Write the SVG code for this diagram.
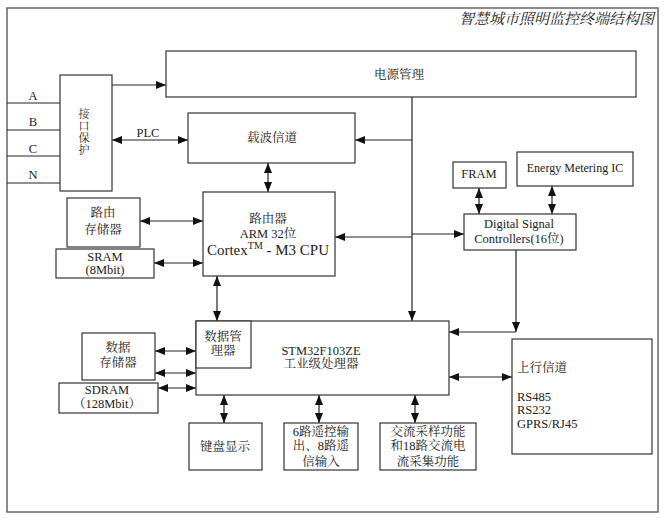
<svg xmlns="http://www.w3.org/2000/svg" width="666" height="518" viewBox="0 0 666 518">
<style>
.box{fill:#fff;stroke:#333;stroke-width:1.2}
.ln{fill:none;stroke:#222;stroke-width:1.2}
.a2{marker-start:url(#ah);marker-end:url(#ah)}
.a1{marker-end:url(#ah)}
.t{font-family:"Liberation Serif","Noto Serif CJK SC","Noto Sans CJK SC",serif;font-size:12.5px;fill:#222;text-anchor:middle;dominant-baseline:central}
.l{text-anchor:start}
.v{font-size:11px}
</style>
<defs>
<marker id="ah" viewBox="0 0 10 8" refX="10" refY="4" markerWidth="10" markerHeight="8" markerUnits="userSpaceOnUse" orient="auto-start-reverse">
<path d="M0,0 L10,4 L0,8 z" fill="#111"/>
</marker>
</defs>
<rect x="7" y="8" width="651" height="504" fill="#fff" stroke="#666" stroke-width="1.5"/>
<text class="t" x="654" y="19" style="text-anchor:end;font-size:15px;font-style:italic">智慧城市照明监控终端结构图</text>

<g id="connectors">
<line class="ln" x1="7" y1="103" x2="60" y2="103"/>
<line class="ln" x1="7" y1="130" x2="60" y2="130"/>
<line class="ln" x1="7" y1="156" x2="60" y2="156"/>
<line class="ln" x1="7" y1="183" x2="60" y2="183"/>
<line class="ln a1" x1="112" y1="85" x2="166" y2="85"/>
<line class="ln a2" x1="112" y1="140" x2="188" y2="140"/>
<line class="ln a1" x1="412" y1="97" x2="412" y2="321"/>
<line class="ln a1" x1="412" y1="140" x2="355" y2="140"/>
<line class="ln a2" x1="268" y1="163" x2="268" y2="192"/>
<line class="ln a1" x1="412" y1="237" x2="335" y2="237"/>
<line class="ln a1" x1="412" y1="234" x2="464" y2="234"/>
<line class="ln a2" x1="479" y1="188" x2="479" y2="214"/>
<line class="ln a2" x1="552" y1="186" x2="552" y2="214"/>
<line class="ln a1" x1="516" y1="250" x2="516" y2="332"/>
<line class="ln a1" x1="516" y1="332" x2="449" y2="332"/>
<line class="ln a2" x1="140" y1="221" x2="203" y2="221"/>
<line class="ln a2" x1="154" y1="263" x2="203" y2="263"/>
<line class="ln a2" x1="217" y1="276" x2="217" y2="321"/>
<line class="ln a2" x1="155" y1="351" x2="196" y2="351"/>
<line class="ln a2" x1="155" y1="373" x2="196" y2="373"/>
<line class="ln a2" x1="158" y1="388" x2="196" y2="388"/>
<line class="ln a2" x1="224" y1="395" x2="224" y2="423"/>
<line class="ln a2" x1="319" y1="395" x2="319" y2="423"/>
<line class="ln a2" x1="415" y1="395" x2="415" y2="423"/>
<line class="ln a2" x1="449" y1="377" x2="512" y2="377"/>
<text class="t" x="33" y="96">A</text>
<text class="t" x="33" y="122">B</text>
<text class="t" x="33" y="149">C</text>
<text class="t" x="33" y="175">N</text>
<text class="t" x="148" y="133">PLC</text>
</g>

<g id="power">
<rect class="box" x="166" y="51" width="470" height="46"/>
<text class="t" x="399" y="75">电源管理</text>
</g>
<g id="interface">
<rect class="box" x="60" y="75" width="52" height="116"/>
<text class="t v" x="84" y="114">接</text>
<text class="t v" x="84" y="126">口</text>
<text class="t v" x="84" y="138">保</text>
<text class="t v" x="84" y="150">护</text>
</g>
<g id="carrier">
<rect class="box" x="188" y="113" width="167" height="50"/>
<text class="t" x="272" y="138">载波信道</text>
</g>
<g id="router">
<rect class="box" x="203" y="192" width="132" height="84"/>
<text class="t" x="268" y="219">路由器</text>
<text class="t" x="268" y="234">ARM 32位</text>
<text class="t" x="268" y="250" style="font-size:15px">Cortex<tspan dy="-5" style="font-size:10px">TM</tspan><tspan dy="5"> - M3 CPU</tspan></text>
</g>
<g id="router-mem">
<rect class="box" x="67" y="198" width="73" height="49"/>
<text class="t" x="103" y="213">路由</text>
<text class="t" x="103" y="230">存储器</text>
</g>
<g id="sram">
<rect class="box" x="56" y="249" width="98" height="29"/>
<text class="t" x="105" y="257">SRAM</text>
<text class="t" x="105" y="270">(8Mbit)</text>
</g>
<g id="fram">
<rect class="box" x="453" y="162" width="53" height="26"/>
<text class="t" x="479" y="174">FRAM</text>
</g>
<g id="energy">
<rect class="box" x="517" y="152" width="116" height="34"/>
<text class="t" x="575" y="168" style="font-size:12px">Energy Metering IC</text>
</g>
<g id="dsc">
<rect class="box" x="464" y="214" width="112" height="36"/>
<text class="t" x="519" y="224">Digital Signal</text>
<text class="t" x="519" y="239">Controllers(16位)</text>
</g>
<g id="stm32">
<rect class="box" x="196" y="321" width="253" height="74"/>
<text class="t" x="321" y="351">STM32F103ZE</text>
<text class="t" x="321" y="364">工业级处理器</text>
</g>
<g id="data-mgr">
<rect class="box" x="196" y="321" width="55" height="47"/>
<text class="t" x="223" y="337">数据管</text>
<text class="t" x="223" y="351">理器</text>
</g>
<g id="data-mem">
<rect class="box" x="82" y="333" width="73" height="47"/>
<text class="t" x="118" y="348">数据</text>
<text class="t" x="118" y="363">存储器</text>
</g>
<g id="sdram">
<rect class="box" x="59" y="383" width="99" height="30"/>
<text class="t" x="107" y="390">SDRAM</text>
<text class="t" x="107" y="404">（128Mbit）</text>
</g>
<g id="keyboard">
<rect class="box" x="189" y="423" width="73" height="47"/>
<text class="t" x="225" y="447">键盘显示</text>
</g>
<g id="remote">
<rect class="box" x="284" y="423" width="74" height="47"/>
<text class="t" x="321" y="432">6路遥控输</text>
<text class="t" x="321" y="446">出、8路遥</text>
<text class="t" x="321" y="462">信输入</text>
</g>
<g id="ac">
<rect class="box" x="380" y="423" width="96" height="47"/>
<text class="t" x="428" y="432">交流采样功能</text>
<text class="t" x="428" y="446">和18路交流电</text>
<text class="t" x="428" y="462">流采集功能</text>
</g>
<g id="uplink">
<rect class="box" x="512" y="339" width="140" height="115"/>
<text class="t l" x="517" y="368">上行信道</text>
<text class="t l" x="517" y="397">RS485</text>
<text class="t l" x="517" y="410">RS232</text>
<text class="t l" x="517" y="424">GPRS/RJ45</text>
</g>
</svg>
